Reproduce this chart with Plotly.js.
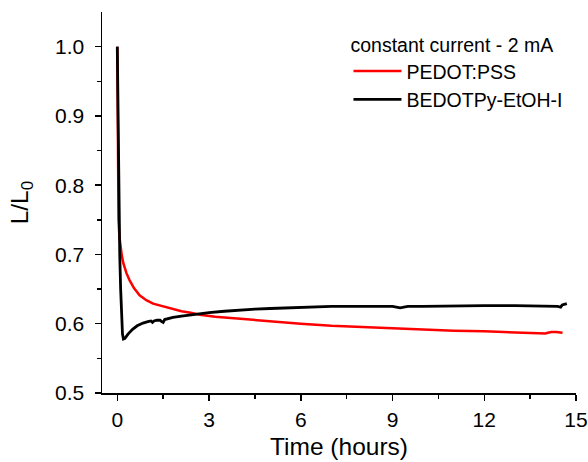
<!DOCTYPE html>
<html>
<head>
<meta charset="utf-8">
<script src="https://cdn.plot.ly/plotly-3.0.1.min.js"></script>
<style>html,body{margin:0;padding:0;background:#fff;}#chart{width:588px;height:462px;}</style>
</head>
<body>
<div id="chart"></div>
<script>
var pedotT = [0, 0.005, 0.015, 0.025, 0.04, 0.07, 0.1, 0.15, 0.2, 0.3, 0.4, 0.55, 0.73, 0.95, 1.17, 1.5, 1.82, 2.1, 2.4, 2.7, 3.2, 4.0, 5.0, 6.0, 7.0, 8.0, 9.0, 10.0, 11.0, 12.0, 13.0, 14.0, 14.08, 14.2, 14.35, 14.45, 14.56];
var pedotL = [1.0, 0.95, 0.87, 0.79, 0.75, 0.725, 0.711, 0.698, 0.687, 0.673, 0.663, 0.651, 0.641, 0.634, 0.629, 0.625, 0.621, 0.618, 0.616, 0.613, 0.610, 0.607, 0.603, 0.600, 0.597, 0.595, 0.593, 0.591, 0.590, 0.589, 0.587, 0.586, 0.587, 0.588, 0.588, 0.587, 0.587];

var bedotT = [0, 0.01, 0.03, 0.05, 0.08, 0.11, 0.14, 0.17, 0.2, 0.25, 0.35, 0.5, 0.65, 0.84, 1.0, 1.1, 1.15, 1.2, 1.3, 1.4, 1.45, 1.5, 1.55, 1.7, 1.82, 2.1, 2.4, 2.7, 3.0, 3.5, 4.0, 4.5, 5.0, 5.5, 6.0, 6.5, 7.0, 7.5, 8.0, 8.6, 9.0, 9.25, 9.5, 10.0, 11.0, 12.0, 13.0, 14.0, 14.4, 14.5, 14.55, 14.7];
var bedotL = [1.0, 0.96, 0.87, 0.76, 0.70, 0.65, 0.61, 0.585, 0.578, 0.579, 0.585, 0.592, 0.597, 0.601, 0.603, 0.604, 0.602, 0.604, 0.605, 0.605, 0.603, 0.602, 0.606, 0.608, 0.609, 0.611, 0.613, 0.615, 0.616, 0.618, 0.620, 0.621, 0.622, 0.623, 0.624, 0.624, 0.625, 0.625, 0.625, 0.626, 0.625, 0.623, 0.625, 0.625, 0.626, 0.626, 0.626, 0.626, 0.625, 0.624, 0.627, 0.629];

var xTicks = [0, 3, 6, 9, 12, 15];
var yTicks = [0.5, 0.6, 0.7, 0.8, 0.9, 1.0];
var yTickText = ['0.5', '0.6', '0.7', '0.8', '0.9', '1.0'];

var traces = [
  {x: pedotT, y: pedotL, type: 'scatter', mode: 'lines', name: 'PEDOT:PSS',
   line: {color: '#ff0000', width: 2.5}},
  {x: bedotT, y: bedotL, type: 'scatter', mode: 'lines', name: 'BEDOTPy-EtOH-I',
   line: {color: '#000000', width: 2.8}}
];

var fam = 'Liberation Sans, Arial, sans-serif';

var layout = {
  width: 588, height: 462,
  margin: {l: 102, r: 12, t: 12, b: 69},
  paper_bgcolor: '#fff', plot_bgcolor: '#fff',
  showlegend: true,
  font: {family: fam, color: '#000'},
  xaxis: {
    range: [-0.5, 15], tickvals: xTicks, ticktext: xTicks.map(String),
    ticks: 'outside', ticklen: 6, tickwidth: 1.5, tickcolor: '#000',
    showline: true, linecolor: '#000', linewidth: 1.5,
    showgrid: false, zeroline: false,
    tickfont: {family: fam, size: 21, color: '#000'},
    ticklabelstandoff: 1,
    minor: {tickvals: [1.5, 4.5, 7.5, 10.5, 13.5], ticks: 'outside', ticklen: 4, tickwidth: 1.5, tickcolor: '#000', showgrid: false},
    title: {text: 'Time (hours)', font: {family: fam, size: 24.5, color: '#000'}, standoff: 8}
  },
  yaxis: {
    range: [0.5, 1.05], tickvals: yTicks, ticktext: yTickText,
    ticks: 'outside', ticklen: 6, tickwidth: 1.5, tickcolor: '#000',
    showline: true, linecolor: '#000', linewidth: 1.5,
    showgrid: false, zeroline: false,
    tickfont: {family: fam, size: 21, color: '#000'},
    ticklabelstandoff: 6,
    minor: {tickvals: [0.55, 0.65, 0.75, 0.85, 0.95], ticks: 'outside', ticklen: 4, tickwidth: 1.5, tickcolor: '#000', showgrid: false},
    title: {text: 'L/L<sub>0</sub>', font: {family: fam, size: 24.5, color: '#000'}, standoff: 19}
  },
  legend: {
    x: 0.52, y: 0.962, xanchor: 'left', yanchor: 'top',
    bgcolor: 'rgba(0,0,0,0)',
    font: {family: fam, size: 19.5, color: '#000'},
    title: {text: 'constant current - 2 mA', font: {family: fam, size: 19.5, color: '#000'}, side: 'top'},
    itemwidth: 48,
    tracegroupgap: 0
  }
};

Plotly.newPlot('chart', traces, layout, {staticPlot: true, displayModeBar: false});
</script>
</body>
</html>
